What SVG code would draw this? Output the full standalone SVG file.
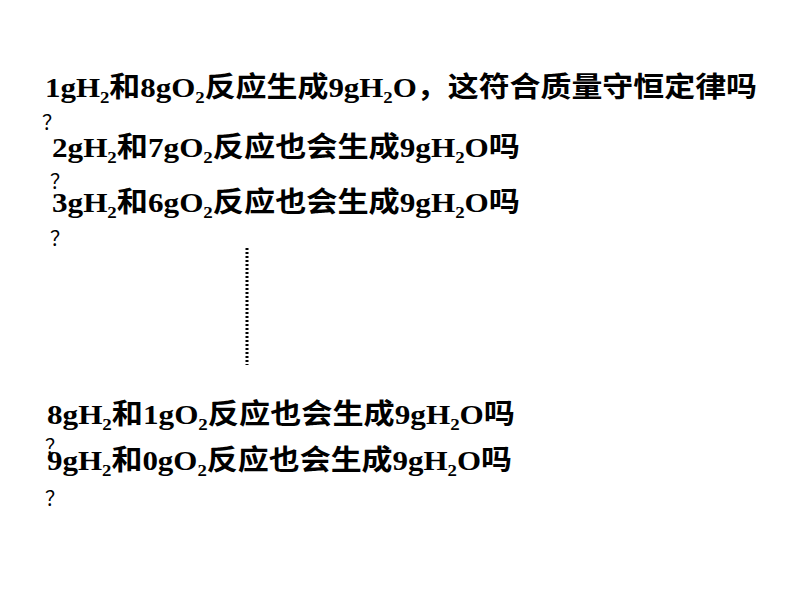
<svg xmlns="http://www.w3.org/2000/svg" width="794" height="596" viewBox="0 0 794 596">
<style>
text{font-family:"Liberation Serif","Noto Sans CJK SC",serif;font-weight:bold;font-size:28px;fill:#000}
.s{font-size:17px}
.q{font-size:20px;font-weight:normal}
</style>
<rect width="794" height="596" fill="#fff"/>
<g id="l1"><text x="45" y="97" textLength="712" lengthAdjust="spacingAndGlyphs">1gH<tspan class="s" dy="6">2</tspan><tspan dy="-6">和8gO</tspan><tspan class="s" dy="6">2</tspan><tspan dy="-6">反应生成9gH</tspan><tspan class="s" dy="6">2</tspan><tspan dy="-6">O，这符合质量守恒定律吗</tspan></text><text class="q" x="42" y="130">？</text></g>
<g id="l2"><text x="52" y="157" textLength="468" lengthAdjust="spacingAndGlyphs">2gH<tspan class="s" dy="6">2</tspan><tspan dy="-6">和7gO</tspan><tspan class="s" dy="6">2</tspan><tspan dy="-6">反应也会生成9gH</tspan><tspan class="s" dy="6">2</tspan><tspan dy="-6">O吗</tspan></text><text class="q" x="50" y="189">？</text></g>
<g id="l3"><text x="52" y="212" textLength="468" lengthAdjust="spacingAndGlyphs">3gH<tspan class="s" dy="6">2</tspan><tspan dy="-6">和6gO</tspan><tspan class="s" dy="6">2</tspan><tspan dy="-6">反应也会生成9gH</tspan><tspan class="s" dy="6">2</tspan><tspan dy="-6">O吗</tspan></text><text class="q" x="50" y="246">？</text></g>
<g id="dots"><line x1="247" y1="248" x2="247" y2="365" stroke="#000" stroke-width="3" stroke-dasharray="2 2"/></g>
<g id="l4"><text x="47" y="424" textLength="468" lengthAdjust="spacingAndGlyphs">8gH<tspan class="s" dy="6">2</tspan><tspan dy="-6">和1gO</tspan><tspan class="s" dy="6">2</tspan><tspan dy="-6">反应也会生成9gH</tspan><tspan class="s" dy="6">2</tspan><tspan dy="-6">O吗</tspan></text><text class="q" x="45" y="454">？</text></g>
<g id="l5"><text x="47" y="470" textLength="465" lengthAdjust="spacingAndGlyphs">9gH<tspan class="s" dy="6">2</tspan><tspan dy="-6">和0gO</tspan><tspan class="s" dy="6">2</tspan><tspan dy="-6">反应也会生成9gH</tspan><tspan class="s" dy="6">2</tspan><tspan dy="-6">O吗</tspan></text><text class="q" x="45" y="506">？</text></g>
<g id="connectors"/>
</svg>
